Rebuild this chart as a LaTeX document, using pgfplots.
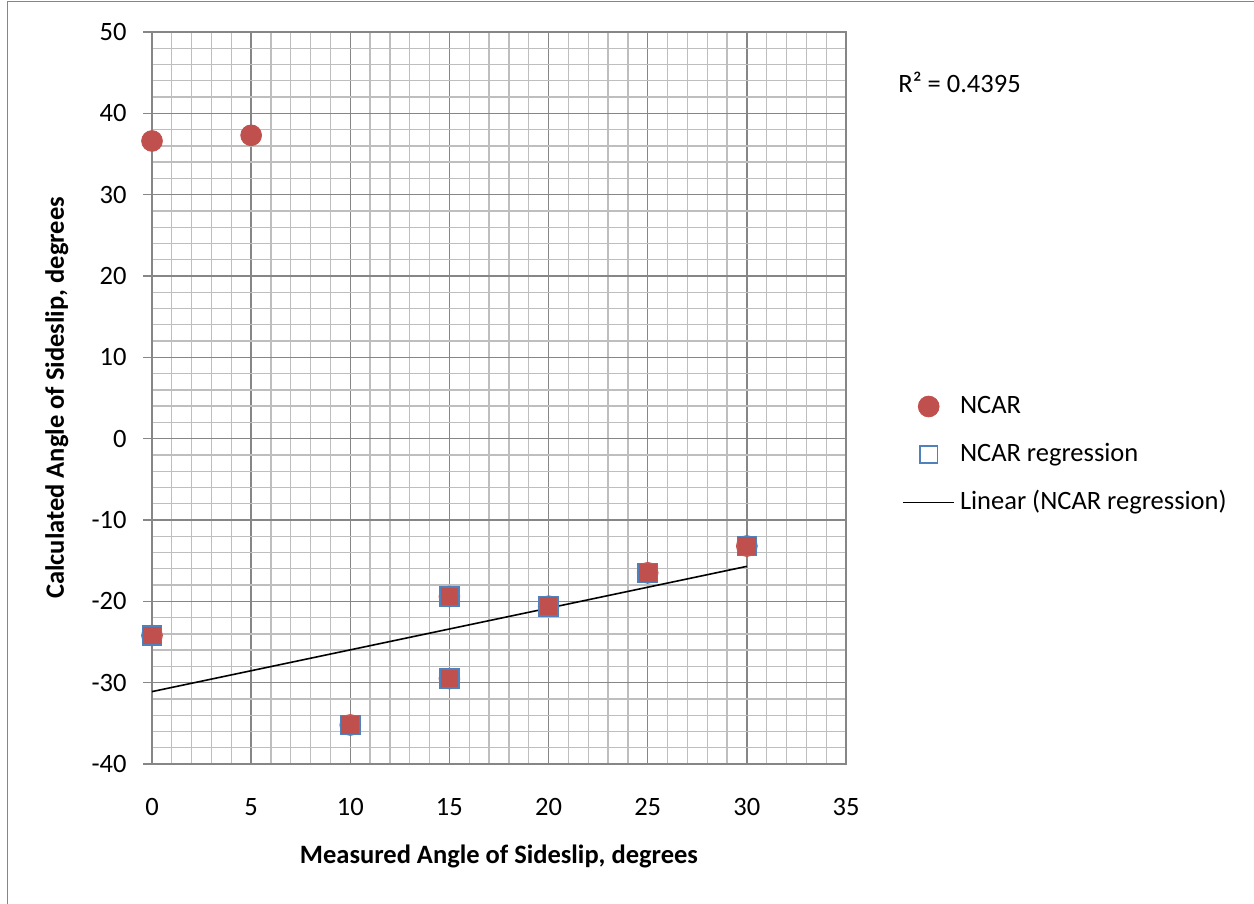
\documentclass[border=0pt]{standalone}
\usepackage{pgfplots}
\pgfplotsset{compat=1.18}
\usepackage{fontspec}
\setmainfont{Carlito}
\definecolor{ncred}{HTML}{C0504D}
\definecolor{ncblue}{HTML}{4F81BD}
\definecolor{majgrid}{HTML}{868686}
\definecolor{mingrid}{HTML}{BEBEBE}
\begin{document}
\begin{tikzpicture}
\useasboundingbox (0bp,0bp) rectangle (627bp,452bp);
\draw[majgrid, line width=0.9bp] (3.7bp,0bp) -- (3.7bp,451.2bp) -- (627bp,451.2bp);
\begin{axis}[
  at={(76bp,70bp)}, anchor=south west,
  scale only axis, width=347bp, height=366bp,
  xmin=0, xmax=35, ymin=-40, ymax=50,
  xtick={0,5,...,35}, ytick={-40,-30,...,50},
  minor x tick num=4, minor y tick num=4,
  grid=both,
  major grid style={majgrid, line width=0.75bp},
  minor grid style={mingrid, line width=0.65bp},
  axis line style={majgrid, line width=0.75bp},
  ytick style={majgrid, line width=0.75bp},
  xtick style={draw=none},
  major tick length=4.5bp, minor tick length=0pt,
  tick align=outside, tick pos=left,
  font=\fontsize{13.3}{15}\selectfont,
  /pgf/number format/assume math mode=true,
  yticklabel style={anchor=east, inner sep=0pt, xshift=-8bp},
  xticklabel style={anchor=center, inner sep=0pt, yshift=-17bp},
  every axis x label/.style={at={(axis description cs:0.5,-0.1257)}, anchor=center},
  every axis y label/.style={at={(axis description cs:-0.137,0.5)}, anchor=center, rotate=90},
  xlabel={\bfseries Measured Angle of Sideslip, degrees},
  ylabel={\bfseries Calculated Angle of Sideslip, degrees},
  clip=false,
  legend image code/.code={\draw[mark repeat=2,mark phase=2,#1] plot coordinates {(0bp,0bp) (12.75bp,0bp) (25.5bp,0bp)};},
  legend cell align=left,
  legend style={draw=none, fill=none, inner sep=0pt, at={(axis description cs:1.0807,0.4228)}, anchor=west,
    row sep=12.5bp, column sep=2.5bp,
    nodes={inner sep=0pt, text height=9bp, text depth=2.5bp},
    font=\fontsize{13.3}{15}\selectfont},
]
\addlegendimage{only marks, mark=*, mark size=5.2bp, mark options={fill=ncred, draw=ncred}}
\addlegendentry{NCAR}
\addlegendimage{only marks, mark=square, mark size=4.3bp, mark options={draw=ncblue, line width=0.7bp}}
\addlegendentry{NCAR regression}
\addlegendimage{black, line width=0.8bp}
\addlegendentry{Linear (NCAR regression)}

\addplot[forget plot, black, line width=0.8bp] coordinates {(0,-31.1) (30,-15.7)};
\addplot[forget plot, only marks, mark=*, mark size=5.2bp, mark options={fill=ncred, draw=ncred}] coordinates {
(0,36.6) (5,37.3) (0,-24.2) (10,-35.2) (15,-19.4) (15,-29.5) (20,-20.6) (25,-16.5) (30,-13.2)};
\addplot[forget plot, only marks, mark=square*, mark size=4.8bp, mark options={fill=ncred, draw=ncblue, line width=0.7bp}] coordinates {
(0,-24.2) (10,-35.2) (15,-19.4) (15,-29.5) (20,-20.6) (25,-16.5) (30,-13.2)};
\node[anchor=west, inner sep=0pt] at (axis description cs:1.0749,0.9317) {R² = 0.4395};
\end{axis}
\end{tikzpicture}
\end{document}
